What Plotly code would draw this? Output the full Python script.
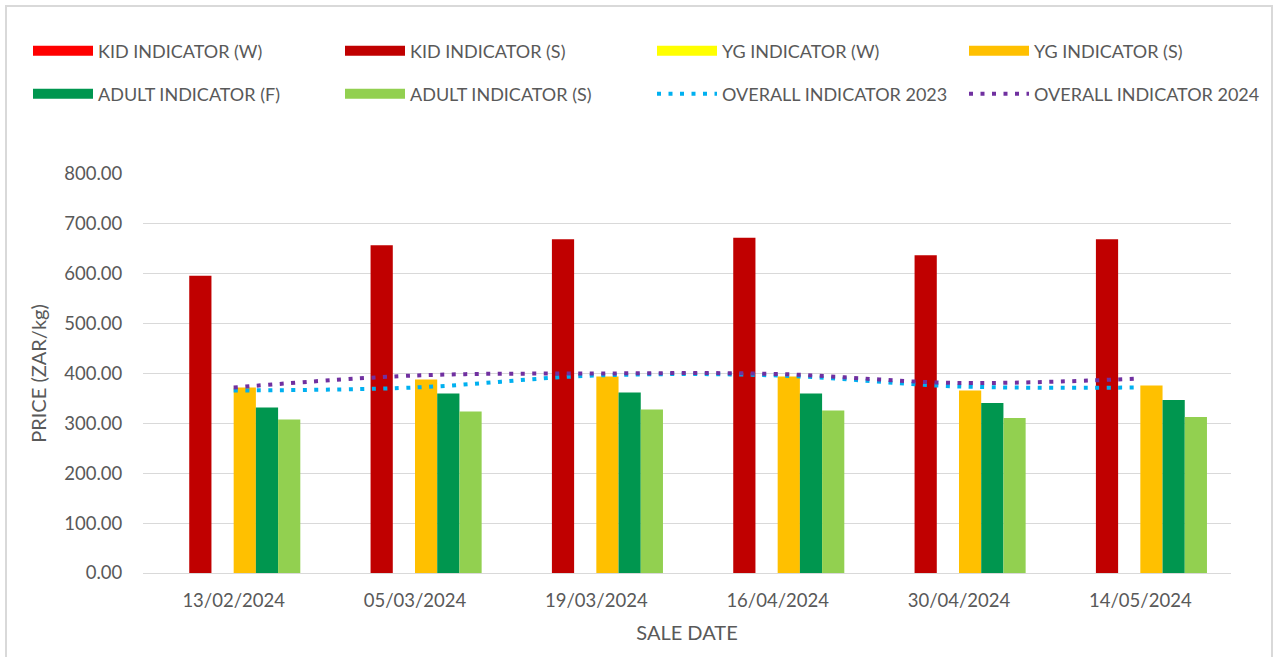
import plotly.graph_objects as go

dates = ["13/02/2024", "05/03/2024", "19/03/2024", "16/04/2024", "30/04/2024", "14/05/2024"]
kid_w = [0, 0, 0, 0, 0, 0]
kid_s = [596, 657, 669, 672, 637, 669]
yg_w = [0, 0, 0, 0, 0, 0]
yg_s = [372, 388, 394, 394, 366, 376]
adult_f = [332, 360, 362, 360, 341, 347]
adult_s = [308, 324, 328, 326, 311, 313]
overall_2023 = [366, 372, 396, 396, 374, 372]
overall_2024 = [372, 396, 400, 399, 381, 390]

FONT = "Lato"
GREY = "#595959"

bars = [
    ("KID INDICATOR (W)", kid_w, "#FF0000"),
    ("KID INDICATOR (S)", kid_s, "#C00000"),
    ("YG INDICATOR (W)", yg_w, "#FFFF00"),
    ("YG INDICATOR (S)", yg_s, "#FFC000"),
    ("ADULT INDICATOR (F)", adult_f, "#00964F"),
    ("ADULT INDICATOR (S)", adult_s, "#92D050"),
]
legend_ids = ["legend", "legend2", "legend3", "legend4",
              "legend5", "legend6", "legend7", "legend8"]

fig = go.Figure()
for name, vals, col in bars:
    fig.add_trace(go.Bar(x=dates, y=vals, name=name, marker_color=col,
                         marker_line_width=0, showlegend=False))
# legend entries drawn as strips (no data)
for i, (name, vals, col) in enumerate(bars):
    fig.add_trace(go.Scatter(x=[None], y=[None], mode="lines", name=name,
                             line=dict(color=col, width=10), legend=legend_ids[i]))

fig.add_trace(go.Scatter(x=dates, y=overall_2023, name="OVERALL INDICATOR 2023",
                         mode="lines", line=dict(color="#00B0F0", width=4, dash="4px,7.5px", shape="spline"),
                         legend="legend7"))
fig.add_trace(go.Scatter(x=dates, y=overall_2024, name="OVERALL INDICATOR 2024",
                         mode="lines", line=dict(color="#7030A0", width=4, dash="4px,7.5px", shape="spline"),
                         legend="legend8"))

leg_common = dict(orientation="h", xanchor="left", yanchor="middle",
                  xref="container", yref="container",
                  font=dict(family=FONT, size=18, color=GREY),
                  itemwidth=60, bgcolor="rgba(0,0,0,0)")

legends = {}
for i, lid in enumerate(legend_ids):
    col = i % 4
    row = i // 4
    legends[lid] = dict(x=(28 + col * 312) / 1274, y=1 - (51 + row * 43) / 657, **leg_common)

fig.update_layout(
    width=1274, height=657,
    barmode="group", bargap=0.265, bargroupgap=0,
    plot_bgcolor="white", paper_bgcolor="white",
    margin=dict(l=143, r=43, t=174, b=84, autoexpand=False),
    font=dict(family=FONT, color=GREY),
    xaxis=dict(type="category", showgrid=False, showline=True, linecolor="#D9D9D9",
               linewidth=1, tickfont=dict(family=FONT, size=18.5, color=GREY), automargin=False,
               title=dict(text="SALE DATE", font=dict(family=FONT, size=20, color=GREY), standoff=15),
               ticks="outside", ticklen=11, tickcolor="rgba(0,0,0,0)"),
    yaxis=dict(range=[0, 800], dtick=100, tickformat=".2f", showgrid=True,
               gridcolor="#D9D9D9", gridwidth=1, zeroline=False, showline=False,
               tickfont=dict(family=FONT, size=18.5, color=GREY), automargin=False,
               ticks="outside", ticklen=16, tickcolor="rgba(0,0,0,0)",
               title=dict(text="PRICE (ZAR/kg)", font=dict(family=FONT, size=20, color=GREY), standoff=12)),
    shapes=[dict(type="rect", xref="paper", yref="paper",
                 x0=-(143 - 6) / 1088, x1=1 + (1272 - 1231) / 1088,
                 y0=-(657 - 573 + 20) / 399, y1=1 + (174 - 6) / 399,
                 line=dict(color="#D9D9D9", width=2))],
    **legends,
)

fig.write_html("out.html", config={"displayModeBar": False},
               post_script="document.body.style.margin='0';")
